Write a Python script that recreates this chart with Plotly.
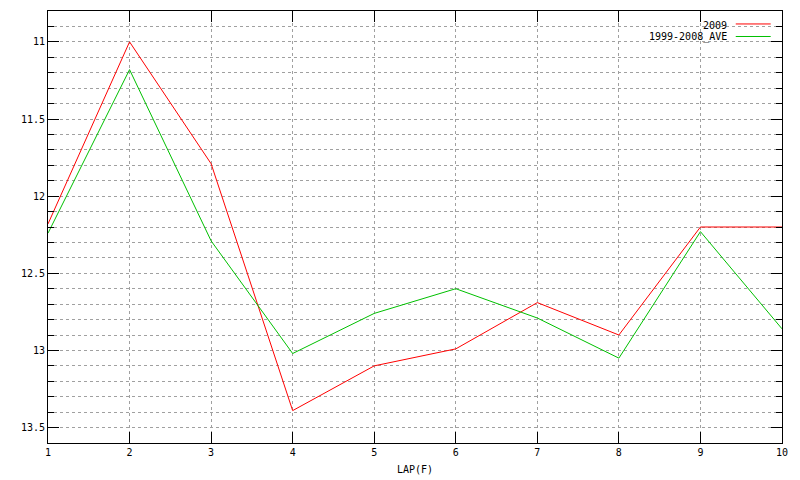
import plotly.graph_objects as go

laps = [1, 2, 3, 4, 5, 6, 7, 8, 9, 10]
y2009 = [12.18, 11.0, 11.79, 13.39, 13.10, 12.99, 12.69, 12.90, 12.20, 12.20]
yave = [12.24, 11.18, 12.29, 13.02, 12.76, 12.60, 12.79, 13.05, 12.23, 12.86]
names = ["2009", "1999-2008_AVE"]
colors = ["#ff0000", "#00c000"]
ytickvals = [11, 11.5, 12, 12.5, 13, 13.5]
yticktext = ["11", "11.5", "12", "12.5", "13", "13.5"]

FONT = "DejaVu Sans Mono"

fig = go.Figure()
for name, ys, c in zip(names, [y2009, yave], colors):
    fig.add_trace(go.Scatter(x=laps, y=ys, mode="lines", name=name,
                             line=dict(color=c, width=1), showlegend=False))

grid = dict(showgrid=True, gridcolor="#a0a0a0", gridwidth=1, griddash="3px,3px")

fig.update_xaxes(range=[1, 10], tickmode="array", tickvals=laps,
                 ticktext=[str(v) for v in laps],
                 ticks="inside", ticklen=11, tickcolor="black",
                 showline=True, linecolor="black", linewidth=1, mirror="ticks",
                 zeroline=False, automargin=False,
                 title=dict(text="LAP(F)", standoff=8,
                            font=dict(family=FONT, size=10, color="black")),
                 tickfont=dict(family=FONT, size=10, color="black"),
                 **grid)
fig.update_yaxes(range=[13.6, 10.8], tickmode="array", tickvals=ytickvals,
                 ticktext=yticktext,
                 ticks="inside", ticklen=11, tickcolor="black",
                 showline=True, linecolor="black", linewidth=1, mirror="ticks",
                 zeroline=False, automargin=False,
                 minor=dict(dtick=0.1, tick0=11, ticks="inside", ticklen=6,
                            tickcolor="black", showgrid=True, gridcolor="#a0a0a0",
                            gridwidth=1, griddash="3px,3px"),
                 tickfont=dict(family=FONT, size=10, color="black"),
                 **grid)

# legend drawn gnuplot-style: text right-aligned, sample line on the right
for i, (name, c) in enumerate(zip(names, colors)):
    yp = 0.968 - i * 0.029
    fig.add_annotation(xref="paper", yref="paper", x=0.928, y=yp, text=name,
                       showarrow=False, xanchor="right", yanchor="middle",
                       height=14, valign="middle",
                       font=dict(family=FONT, size=10, color="black"))
    fig.add_shape(type="line", xref="paper", yref="paper", x0=0.937, x1=0.9846,
                  y0=yp + 0.002, y1=yp + 0.002, line=dict(color=c, width=1))

# page body has an 8px offset; margins compensate so the plot area lands at
# x 48..782, y 11..443 of the window
fig.update_layout(width=800, height=480, plot_bgcolor="white", paper_bgcolor="white",
                  margin=dict(l=40, r=26, t=3, b=45),
                  font=dict(family=FONT, size=10, color="black"))

fig.write_html("out.html")
